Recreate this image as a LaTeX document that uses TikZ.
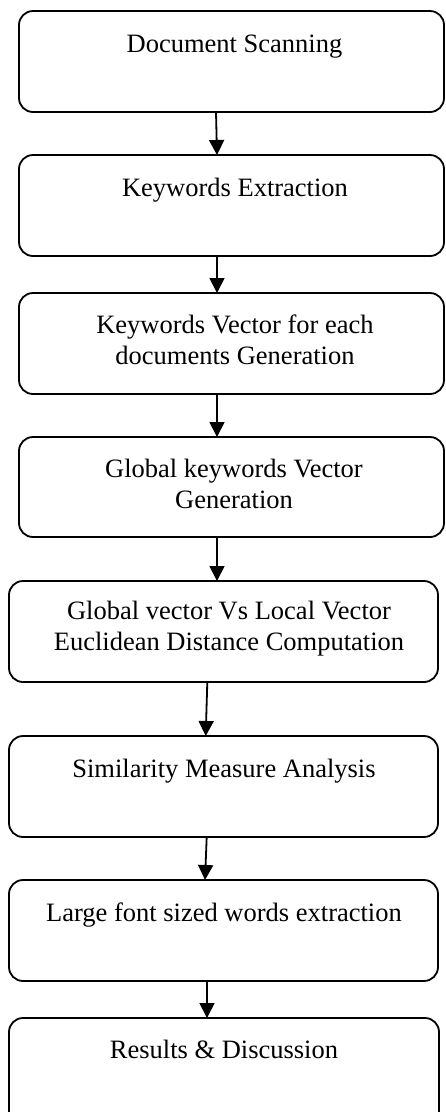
\documentclass[tikz,border=0pt]{standalone}
\usepackage{fontspec}
\setmainfont{Liberation Serif}
\usetikzlibrary{arrows.meta}

\tikzset{
  stepbox/.style={draw, line width=1.8pt, rounded corners=14pt, outer sep=0pt,
    inner sep=0pt, anchor=north west},
  lbl/.style={anchor=base, align=center, inner sep=0pt,
    font=\fontsize{26.5}{31}\selectfont},
  flow/.style={line width=1.8pt, -{Triangle[length=15pt,width=15pt]}}
}

\begin{document}
\begin{tikzpicture}[x=1pt,y=-1pt]
  \useasboundingbox (0,0) rectangle (445,1112);
  \clip (0,0) rectangle (445,1112);

  % process boxes
  \node[stepbox, minimum width=425pt, minimum height=101pt] (b1) at (19,11) {};
  \node[stepbox, minimum width=425pt, minimum height=101pt] (b2) at (19,155) {};
  \node[stepbox, minimum width=425pt, minimum height=101pt] (b3) at (19,293) {};
  \node[stepbox, minimum width=425pt, minimum height=100pt] (b4) at (19,437) {};
  \node[stepbox, minimum width=429pt, minimum height=101pt] (b5) at (9,581) {};
  \node[stepbox, minimum width=429pt, minimum height=101pt] (b6) at (9,736) {};
  \node[stepbox, minimum width=429pt, minimum height=101pt] (b7) at (9,880) {};
  \node[stepbox, minimum width=430pt, minimum height=107pt] (b8) at (9,1018) {};

  % box captions (a multi-line caption sits on the baseline of its last line)
  \node[lbl] (t1) at (234.5,52) {Document Scanning};
  \node[lbl] (t2) at (235,196) {Keywords Extraction};
  \node[lbl] (t3) at (235,364) {Keywords Vector for each\\documents Generation};
  \node[lbl] (t4) at (234,508) {Global keywords Vector\\Generation};
  \node[lbl] (t5) at (229,650) {Global vector Vs Local Vector\\Euclidean Distance Computation};
  \node[lbl] (t6) at (224,777) {Similarity Measure Analysis};
  \node[lbl] (t7) at (224,921) {Large font sized words extraction};
  \node[lbl] (t8) at (224,1058) {Results \& Discussion};

  % connectors
  \draw[flow] ([xshift=-15.5pt]b1.south) -- ([xshift=-14.5pt]b2.north);
  \draw[flow] ([xshift=-14.5pt]b2.south) -- ([xshift=-14.5pt]b3.north);
  \draw[flow] ([xshift=-14.5pt]b3.south) -- ([xshift=-14.5pt]b4.north);
  \draw[flow] ([xshift=-14.5pt]b4.south) -- ([xshift=-6.5pt]b5.north);
  \draw[flow] ([xshift=-16.2pt]b5.south) -- ([xshift=-17.8pt]b6.north);
  \draw[flow] ([xshift=-16.8pt]b6.south) -- ([xshift=-18.5pt]b7.north);
  \draw[flow] ([xshift=-16.5pt]b7.south) -- ([xshift=-17pt]b8.north);
\end{tikzpicture}
\end{document}
